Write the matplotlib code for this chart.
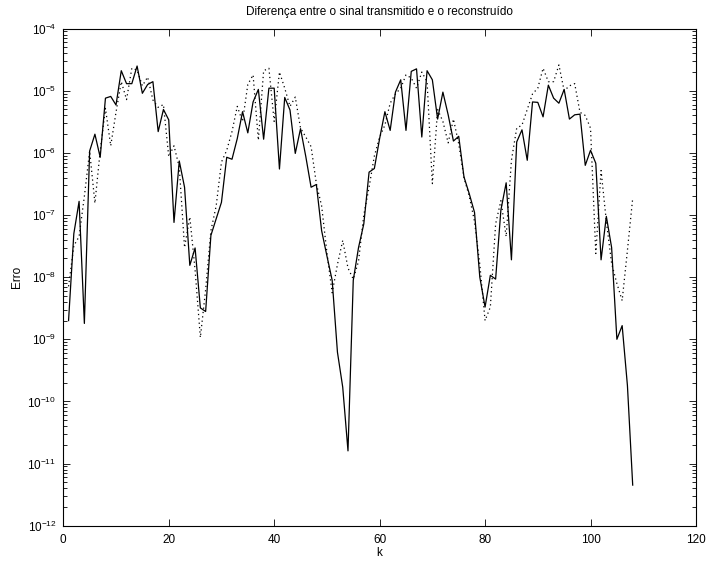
import matplotlib
matplotlib.use("Agg")
import matplotlib.pyplot as plt
import numpy as np
from matplotlib.ticker import LogLocator, FixedLocator, NullFormatter

plt.rcParams['font.family'] = ['Liberation Sans', 'DejaVu Sans']
plt.rcParams['mathtext.fontset'] = 'custom'
plt.rcParams['mathtext.rm'] = 'Liberation Sans'
plt.rcParams['mathtext.it'] = 'Liberation Sans:italic'
plt.rcParams['mathtext.bf'] = 'Liberation Sans:bold'

title = "Diferença entre o sinal transmitido e o reconstruído"
xlabel = "k"
ylabel = "Erro"

k = list(range(1, 109))

erro_solido = [
    2.0e-9, 5.0e-8, 1.66e-7, 1.8e-9, 1.07e-6, 2.0e-6, 8.5e-7, 7.6e-6, 8.1e-6, 5.9e-6,
    2.1e-5, 1.3e-5, 1.3e-5, 2.5e-5, 9.1e-6, 1.26e-5, 1.4e-5, 2.2e-6, 5.0e-6, 3.4e-6,
    7.6e-8, 7.4e-7, 2.8e-7, 1.55e-8, 2.95e-8, 3.2e-9, 2.8e-9, 4.7e-8, 8.7e-8, 1.6e-7,
    8.5e-7, 7.9e-7, 1.7e-6, 4.6e-6, 2.1e-6, 6.6e-6, 1.05e-5, 1.66e-6, 1.1e-5, 1.1e-5,
    5.5e-7, 7.8e-6, 4.9e-6, 9.8e-7, 2.45e-6, 8.7e-7, 2.8e-7, 3.1e-7, 5.6e-8, 2.2e-8,
    8.9e-9, 6.2e-10, 1.7e-10, 1.6e-11, 8.9e-9, 3.0e-8, 7.2e-8, 4.9e-7, 5.6e-7, 1.7e-6,
    4.6e-6, 2.3e-6, 9.5e-6, 1.5e-5, 2.3e-6, 2.05e-5, 2.25e-5, 1.8e-6, 2.1e-5, 1.5e-5,
    3.5e-6, 9.5e-6, 4.1e-6, 1.55e-6, 1.85e-6, 4.1e-7, 2.2e-7, 1.1e-7, 1.0e-8, 3.3e-9,
    1.07e-8, 9.3e-9, 1.2e-7, 3.3e-7, 1.9e-8, 1.5e-6, 2.35e-6, 7.6e-7, 6.6e-6, 6.5e-6,
    3.8e-6, 1.23e-5, 7.6e-6, 6.3e-6, 1.05e-5, 3.5e-6, 4.1e-6, 4.2e-6, 6.3e-7, 1.1e-6,
    6.8e-7, 1.9e-8, 9.5e-8, 3.0e-8, 1.0e-9, 1.66e-9, 1.8e-10, 4.5e-12,
]

erro_pontilhado = [
    7.1e-9, 3.2e-8, 4.5e-8, 2.0e-7, 1.07e-6, 1.55e-7, 1.07e-6, 5.2e-6, 1.3e-6, 4.5e-6,
    1.4e-5, 7.2e-6, 2.3e-5, 2.15e-5, 1.2e-5, 1.66e-5, 7.1e-6, 5.4e-6, 6.0e-6, 8.7e-7,
    1.3e-6, 5.9e-7, 3.0e-8, 9.3e-8, 1.3e-8, 1.07e-9, 6.3e-9, 5.6e-8, 1.4e-7, 7.1e-7,
    1.1e-6, 2.2e-6, 5.6e-6, 3.2e-6, 1.26e-5, 1.8e-5, 1.6e-6, 2.1e-5, 2.3e-5, 3.2e-6,
    2.0e-5, 1.1e-5, 5.6e-6, 7.9e-6, 2.5e-6, 1.8e-6, 1.26e-6, 3.2e-7, 1.4e-7, 2.5e-8,
    5.6e-9, 1.6e-8, 3.9e-8, 1.4e-8, 9.3e-9, 1.8e-8, 1.0e-7, 2.8e-7, 8.9e-7, 1.8e-6,
    2.8e-6, 6.3e-6, 8.9e-6, 1.1e-5, 1.8e-5, 1.6e-5, 1.1e-5, 2.0e-5, 1.4e-5, 3.2e-7,
    5.0e-6, 3.2e-6, 1.45e-6, 3.5e-6, 1.4e-6, 4.0e-7, 2.0e-7, 7.9e-8, 1.6e-8, 2.0e-9,
    3.3e-9, 7.2e-8, 1.7e-7, 4.5e-8, 7.6e-7, 2.5e-6, 2.8e-6, 5.0e-6, 8.9e-6, 1.1e-5,
    2.3e-5, 1.4e-5, 1.4e-5, 2.6e-5, 1.0e-5, 1.2e-5, 1.3e-5, 4.5e-6, 4.0e-6, 2.5e-6,
    2.4e-8, 5.2e-7, 7.9e-8, 1.66e-8, 7.9e-9, 4.2e-9, 2.7e-8, 1.86e-7,
]

x_ticks = [0, 20, 40, 60, 80, 100, 120]
y_decades = list(range(-12, -3))

fig = plt.figure(figsize=(7.07, 5.62), dpi=100)
ax = fig.add_axes([0.0895, 0.0646, 0.8949, 0.8845])

ax.semilogy(k, erro_solido, color='black', linewidth=0.9, linestyle='-')
ax.semilogy(k, erro_pontilhado, color='black', linewidth=0.9, linestyle=(0, (1, 2.5)))

ax.set_xlim(0, 120)
ax.set_ylim(1e-12, 1e-4)
ax.xaxis.set_major_locator(FixedLocator(x_ticks))
ax.set_xticklabels([str(t) for t in x_ticks])
ax.yaxis.set_major_locator(FixedLocator([10.0 ** d for d in y_decades]))
ax.set_yticklabels([r'$10^{%d}$' % d for d in y_decades])
ax.yaxis.set_minor_locator(LogLocator(base=10, subs=np.arange(2, 10), numticks=50))
ax.yaxis.set_minor_formatter(NullFormatter())

ax.tick_params(axis='both', which='both', direction='in', top=True, right=True,
               labelsize=8.5, width=0.6, color='black')
ax.tick_params(axis='both', which='major', length=5)
ax.tick_params(axis='y', which='minor', length=2.8)
ax.tick_params(axis='x', pad=6)
ax.tick_params(axis='y', pad=5)
for s in ax.spines.values():
    s.set_linewidth(0.8)

ax.set_title(title, fontsize=8.5, pad=10)
ax.set_xlabel(xlabel, fontsize=8.5, labelpad=1)
ax.set_ylabel(ylabel, fontsize=8.5, labelpad=3)

fig.savefig("out.png", dpi=100)
